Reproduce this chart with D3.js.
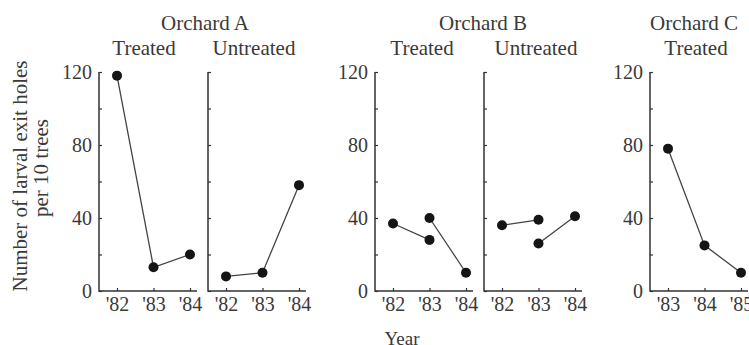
<!DOCTYPE html>
<html>
<head>
<meta charset="utf-8">
<script src="https://cdn.jsdelivr.net/npm/d3@7"></script>
<style>
  body { margin: 0; background: #fff; }
  text { font-family: "Liberation Serif", "Times New Roman", serif; fill: #3a3a3a; }
</style>
</head>
<body>
<svg id="chart" width="749" height="345"></svg>
<script>
// years on the x axis
const yearsAB = ["'82", "'83", "'84"]
const yearsC = ["'83", "'84", "'85"]

// each panel is a list of line segments, each segment a list of [year, holes]
const orchardATreated = [[["'82", 118], ["'83", 13], ["'84", 20]]]
const orchardAUntreated = [[["'82", 8], ["'83", 10], ["'84", 58]]]
const orchardBTreated = [[["'82", 37], ["'83", 28]], [["'83", 40], ["'84", 10]]]
const orchardBUntreated = [[["'82", 36], ["'83", 39]], [["'83", 26], ["'84", 41]]]
const orchardCTreated = [[["'83", 78], ["'84", 25], ["'85", 10]]]

const yTicks = [0, 20, 40, 60, 80, 100, 120]
const yTickLabels = [0, 40, 80, 120]

const orchardTitles = ["Orchard A", "Orchard B", "Orchard C"]
const panelTitles = ["Treated", "Untreated", "Treated", "Untreated", "Treated"]

const svg = d3.select('#chart')
const ink = '#333'

let y = d3.scaleLinear().domain([0, 120]).range([291, 72])

// panel left edges
let panels = [
  { x0: 99, years: yearsAB, data: orchardATreated, labels: true },
  { x0: 208, years: yearsAB, data: orchardAUntreated, labels: false },
  { x0: 375, years: yearsAB, data: orchardBTreated, labels: true },
  { x0: 484, years: yearsAB, data: orchardBUntreated, labels: false },
  { x0: 650, years: yearsC, data: orchardCTreated, labels: true }
]

panels.forEach(p => {
  let x = d3.scalePoint().domain(p.years).range([p.x0 + 18, p.x0 + 91])
  let g = svg.append('g')

  // y axis, ticks pointing inward
  let yAxis = d3.axisLeft(y)
    .tickValues(yTicks)
    .tickSizeInner(-3)
    .tickSizeOuter(0)
    .tickPadding(7)
    .tickFormat(d => p.labels && yTickLabels.includes(d) ? d : '')
  let ya = g.append('g').attr('transform', `translate(${p.x0},0)`).call(yAxis)
  ya.select('.domain').remove()
  ya.selectAll('line').attr('stroke', ink).attr('stroke-width', 1.2)
  ya.selectAll('text').style('font-size', '20px').attr('fill', '#3a3a3a')

  let xAxis = d3.axisBottom(x).tickSizeInner(-3).tickSizeOuter(0).tickPadding(6)
  let xa = g.append('g').attr('transform', `translate(0,${y(0)})`).call(xAxis)
  xa.select('.domain').remove()
  xa.selectAll('line').attr('stroke', ink).attr('stroke-width', 1.2)
  xa.selectAll('text').style('font-size', '20px').attr('fill', '#3a3a3a')

  // L-shaped frame
  g.append('path')
    .attr('d', `M${p.x0},${y(120)}V${y(0)}H${p.x0 + 98}`)
    .attr('fill', 'none')
    .attr('stroke', ink)
    .attr('stroke-width', 1.5)

  let line = d3.line().x(d => x(d[0])).y(d => y(d[1]))
  g.selectAll('.seg')
    .data(p.data)
    .join('path')
    .attr('class', 'seg')
    .attr('d', line)
    .attr('fill', 'none')
    .attr('stroke', '#444')
    .attr('stroke-width', 1.3)

  g.selectAll('circle')
    .data(p.data.flat())
    .join('circle')
    .attr('cx', d => x(d[0]))
    .attr('cy', d => y(d[1]))
    .attr('r', 5)
    .attr('fill', '#151515')
})

// titles
let subTitleX = [144, 254, 422, 536, 696]
svg.selectAll('.sub')
  .data(panelTitles)
  .join('text')
  .attr('class', 'sub')
  .attr('x', (d, i) => subTitleX[i])
  .attr('y', 55)
  .attr('text-anchor', 'middle')
  .style('font-size', '21px')
  .text(d => d)

let orchardX = [205, 483, 694]
svg.selectAll('.orch')
  .data(orchardTitles)
  .join('text')
  .attr('class', 'orch')
  .attr('x', (d, i) => orchardX[i])
  .attr('y', 30)
  .attr('text-anchor', 'middle')
  .style('font-size', '21px')
  .text(d => d)

svg.append('text')
  .attr('transform', 'translate(27,176) rotate(-90)')
  .attr('text-anchor', 'middle')
  .style('font-size', '21px')
  .text('Number of larval exit holes')

svg.append('text')
  .attr('transform', 'translate(48,168) rotate(-90)')
  .attr('text-anchor', 'middle')
  .style('font-size', '21px')
  .text('per 10 trees')

svg.append('text')
  .attr('x', 402)
  .attr('y', 345)
  .attr('text-anchor', 'middle')
  .style('font-size', '19px')
  .text('Year')
</script>
</body>
</html>
